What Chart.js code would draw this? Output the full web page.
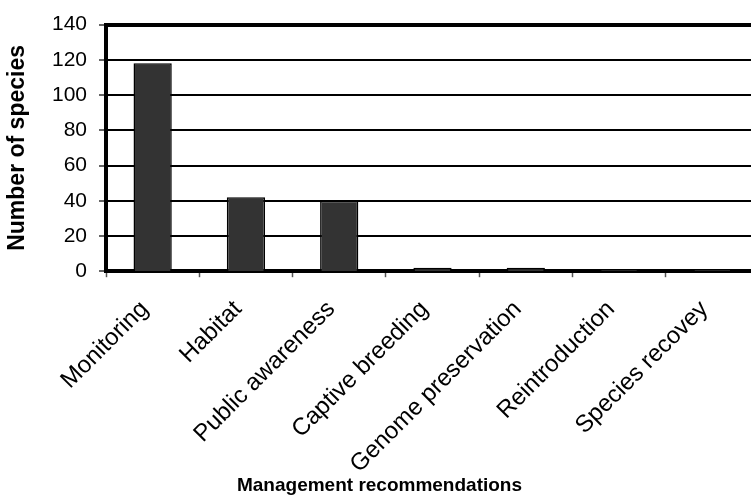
<!DOCTYPE html>
<html>
<head>
<meta charset="utf-8">
<script src="https://cdn.jsdelivr.net/npm/chart.js@4/dist/chart.umd.min.js"></script>
<style>
  html, body { margin: 0; padding: 0; background: #fff; overflow: hidden; }
  #wrap { width: 751px; height: 502px; overflow: hidden; }
  #box { width: 760px; height: 502px; }
</style>
</head>
<body>
<div id="wrap"><div id="box"><canvas id="c"></canvas></div></div>
<script>
const categories = ['Monitoring', 'Habitat', 'Public awareness', 'Captive breeding',
  'Genome preservation', 'Reintroduction', 'Species recovey'];
const speciesCounts = [118, 42, 40, 2, 2, 1, 1];
const yTicks = [0, 20, 40, 60, 80, 100, 120, 140];

const FONT = "'Liberation Sans', Arial, sans-serif";

new Chart(document.getElementById('c'), {
  type: 'bar',
  data: {
    labels: categories,
    datasets: [{
      data: speciesCounts,
      backgroundColor: '#333333',
      borderColor: '#000000',
      borderWidth: 1.5,
      categoryPercentage: 1,
      barPercentage: 0.41
    }]
  },
  options: {
    responsive: true,
    maintainAspectRatio: false,
    animation: false,
    layout: { padding: { top: 23, right: 1, left: 0, bottom: 0 } },
    plugins: {
      legend: { display: false },
      tooltip: { enabled: false },
      // category-axis caption, centred across the whole figure
      title: {
        display: true,
        position: 'bottom',
        text: 'Management recommendations',
        color: '#000000',
        font: { family: FONT, size: 19, weight: 'bold' },
        padding: { top: 0, bottom: 5 }
      }
    },
    scales: {
      x: {
        grid: {
          offset: true,
          drawOnChartArea: false,
          drawTicks: true,
          tickLength: 6,
          tickColor: '#555555',
          tickWidth: 1.5
        },
        border: { display: true, color: '#000000', width: 4 },
        ticks: {
          color: '#000000',
          font: { family: FONT, size: 24 },
          minRotation: 45,
          maxRotation: 45,
          autoSkip: false,
          padding: 18,
          labelOffset: -8
        },
        afterFit: (s) => { s.height = 203; }
      },
      y: {
        min: 0,
        max: 140,
        afterBuildTicks: (s) => { s.ticks = yTicks.map(v => ({ value: v })); },
        grid: {
          color: '#000000',
          lineWidth: (ctx) => ctx.tick && ctx.tick.value === 140 ? 4 : (ctx.tick && ctx.tick.value === 0 ? 0 : 2),
          drawTicks: true,
          tickLength: 7,
          tickColor: '#666666',
          tickWidth: 2
        },
        border: { display: true, color: '#000000', width: 4 },
        ticks: {
          color: '#000000',
          font: { family: FONT, size: 21 },
          padding: 12
        },
        title: {
          display: true,
          text: 'Number of species',
          color: '#000000',
          font: { family: FONT, size: 23, weight: 'bold' },
          padding: { top: 4, bottom: 0 }
        },
        afterFit: (s) => { s.width = 106; }
      }
    }
  }
});
</script>
</body>
</html>
